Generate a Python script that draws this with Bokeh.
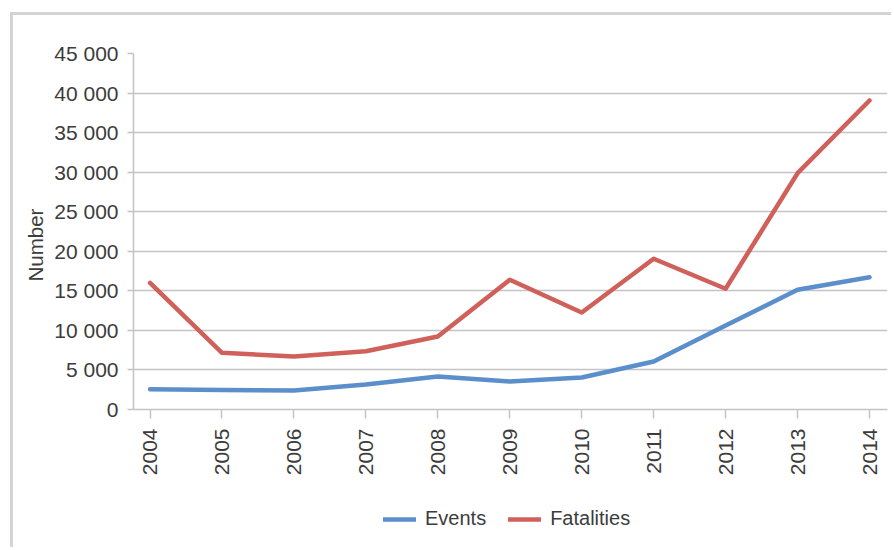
from bokeh.plotting import figure
from bokeh.layouts import column
from bokeh.models import FixedTicker, Range1d, Legend, LegendItem, Title
from bokeh.embed import file_html
from bokeh.resources import INLINE
import math

years = [2004, 2005, 2006, 2007, 2008, 2009, 2010, 2011, 2012, 2013, 2014]
events = [2570, 2470, 2400, 3160, 4170, 3540, 4040, 6070, 10620, 15130, 16720]
fatalities = [16000, 7170, 6700, 7370, 9230, 16400, 12260, 19050, 15260, 29870, 39060]
y_ticks = [0, 5000, 10000, 15000, 20000, 25000, 30000, 35000, 40000, 45000]
series_names = ["Events", "Fatalities"]
y_title = "Number"

BLUE = "#5B8FCB"
RED = "#D0605A"
GRID = "#C4C4C8"
TEXT = "#3C3C3C"
BORDER = "3px solid #D4D4D4"
FONT = "Liberation Sans"

OFF_X, OFF_Y = 13, 15
CHART_BOTTOM = 490  # page y where the legend strip begins
FRAME_LEFT = 133

p = figure(width=894 - OFF_X, height=CHART_BOTTOM - OFF_Y, output_backend="svg",
           toolbar_location=None,
           x_range=Range1d(2003.77, 2014.25), y_range=Range1d(0, 45000),
           min_border_left=FRAME_LEFT - OFF_X, min_border_right=7, min_border_top=53 - OFF_Y,
           min_border_bottom=CHART_BOTTOM - 409)
p.styles = {"margin-left": "10px", "margin-top": "12px",
            "border-left": BORDER, "border-top": BORDER}
p.outline_line_color = None
p.background_fill_color = "white"
p.border_fill_color = "white"

line_style = dict(line_width=4.5, line_cap="round", line_join="round")
p.line(years, events, line_color=BLUE, **line_style)
p.line(years, fatalities, line_color=RED, **line_style)

# grid
p.xgrid.grid_line_color = None
p.ygrid.ticker = FixedTicker(ticks=y_ticks)
p.ygrid.grid_line_color = GRID
p.ygrid.grid_line_width = 1.5

# y axis
ya = p.yaxis[0]
ya.ticker = FixedTicker(ticks=y_ticks)
ya.major_label_overrides = {t: (f"{t:,}".replace(",", " ")) for t in y_ticks}
ya.axis_line_color = GRID
ya.axis_line_width = 1.5
ya.major_tick_line_color = GRID
ya.major_tick_line_width = 1.5
ya.major_tick_out = 6
ya.major_tick_in = 0
ya.minor_tick_line_color = None
ya.major_label_standoff = 9
ya.major_label_text_font = FONT
ya.major_label_text_font_size = "21px"
ya.major_label_text_color = TEXT

# y axis title, placed a little below the frame's centre as in the original
ytitle = Title(text=y_title, align="left", offset=128, standoff=10,
               text_font=FONT, text_font_size="20.5px", text_font_style="normal",
               text_color=TEXT)
p.add_layout(ytitle, "left")

# x axis
xa = p.xaxis[0]
xa.ticker = FixedTicker(ticks=years)
xa.major_label_overrides = {y: str(y) for y in years}
xa.major_label_orientation = math.pi / 2
xa.axis_line_color = GRID
xa.axis_line_width = 1.5
xa.major_tick_line_color = GRID
xa.major_tick_line_width = 1.5
xa.major_tick_out = 9
xa.major_tick_in = 0
xa.minor_tick_line_color = None
xa.major_label_standoff = 10
xa.major_label_text_font = FONT
xa.major_label_text_font_size = "21px"
xa.major_label_text_color = TEXT

# legend strip (continues the cropped grey border on the left)
q = figure(width=894 - OFF_X, height=550 - CHART_BOTTOM, output_backend="svg",
           toolbar_location=None, x_axis_type=None, y_axis_type=None,
           x_range=Range1d(0, 1), y_range=Range1d(0, 1),
           min_border=0, min_border_left=0, min_border_right=0,
           min_border_top=0, min_border_bottom=0)
q.styles = {"margin-left": "10px", "border-left": BORDER}
q.outline_line_color = None
q.grid.visible = False
q.background_fill_color = "white"
q.border_fill_color = "white"
# same series drawn out of this strip's view; they only supply the legend keys
k1 = q.line(years, events, line_color=BLUE, **line_style)
k2 = q.line(years, fatalities, line_color=RED, **line_style)

legend = Legend(items=[LegendItem(label=series_names[0], renderers=[k1]),
                       LegendItem(label=series_names[1], renderers=[k2])],
                orientation="horizontal", location=(383 - FRAME_LEFT, 17),
                padding=0, margin=0, spacing=22, label_standoff=9,
                glyph_width=33, glyph_height=20, label_height=20,
                border_line_color=None, background_fill_alpha=0,
                label_text_font=FONT, label_text_font_size="20px",
                label_text_color=TEXT)
q.add_layout(legend, "center")

layout = column(p, q, spacing=0)
open("out.html", "w").write(file_html(layout, INLINE))
